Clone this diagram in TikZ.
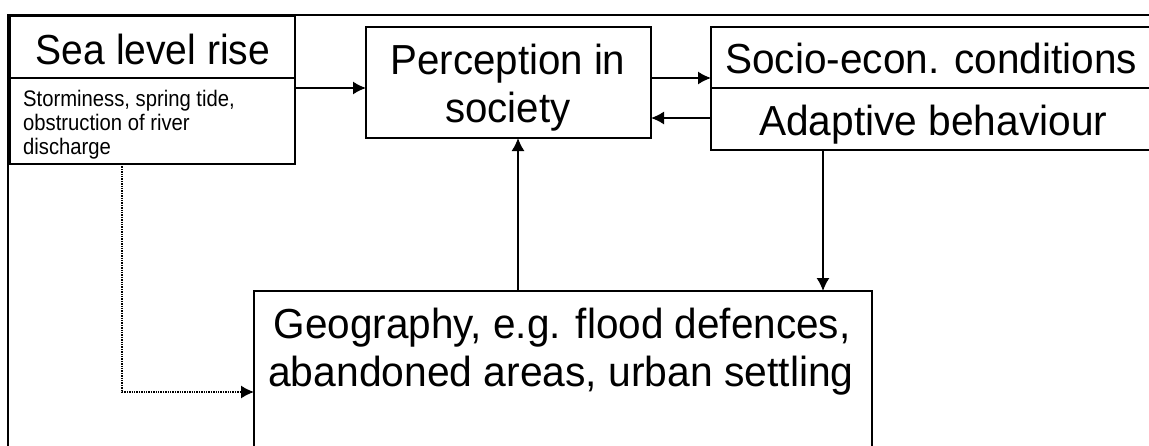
\documentclass[tikz,border=0pt]{standalone}
\usepackage{fontspec}
\usepackage{graphicx}
\setmainfont{Liberation Sans}
\usetikzlibrary{arrows.meta,calc}
\begin{document}
\begin{tikzpicture}[x=1pt,y=-1pt,
  box/.style={draw,line width=1.8pt,inner sep=0pt,outer sep=0pt,anchor=north west},
  frame/.style={draw,line width=1.8pt},
  big/.style={font=\fontsize{42}{48}\selectfont,inner sep=0pt},
  small/.style={font=\fontsize{22.5}{24}\selectfont,inner sep=0pt},
  arr/.style={draw,line width=1.5pt,-{Latex[length=13pt,width=13pt]}},
  dotarr/.style={draw,line width=1.4pt,dash pattern=on 1.4pt off 1pt,-{Latex[length=13pt,width=13pt]}}]
\useasboundingbox (0,0) rectangle (1149,445);
\clip (0,0) rectangle (1149,445);
% outer frame
\draw[frame] (8,470) -- (8,15) -- (1170,15);
% boxes
\node[box,minimum width=285pt,minimum height=62pt] (sea) at (10,16) {};
\node[box,minimum width=285pt,minimum height=86pt] (seasub) at (10,78) {};
\node[box,minimum width=285pt,minimum height=111pt] (perc) at (366,27) {};
\node[box,minimum width=450pt,minimum height=61pt] (socio) at (711,27) {};
\node[box,minimum width=450pt,minimum height=62pt] (adapt) at (711,88) {};
\node[box,minimum width=618pt,minimum height=220pt] (geo) at (254,291) {};
% texts
\node[big,anchor=base] (tsea) at (153,64) {\scalebox{0.93}[1]{Sea level rise}};
\node[small,anchor=base west] (tsub1) at (23,106) {\scalebox{0.9}[1]{Storminess, spring tide,}};
\node[small,anchor=base west] (tsub2) at (23,130) {\scalebox{0.9}[1]{obstruction of river}};
\node[small,anchor=base west] (tsub3) at (23,154) {\scalebox{0.9}[1]{discharge}};
\node[big,anchor=base] (tperc1) at (508,74) {\scalebox{0.958}[1]{Perception in}};
\node[big,anchor=base] (tperc2) at (508,122) {\scalebox{0.958}[1]{society}};
\node[big,anchor=base west] (tsocio) at (725,73) {\scalebox{0.966}[1]{Socio-econ. conditions}};
\node[big,anchor=base west] (tadapt) at (759,135) {\scalebox{0.968}[1]{Adaptive behaviour}};
\node[big,anchor=base] (tgeo1) at (562,338) {\scalebox{0.964}[1]{Geography, e.g. flood defences,}};
\node[big,anchor=base] (tgeo2) at (561,386) {\scalebox{0.972}[1]{abandoned areas, urban settling}};
% connectors
\draw[arr] ($(seasub.north east)+(0,10)$) -- ($(perc.north west)+(0,61)$);
\draw[arr] ($(perc.north east)+(0,51)$) -- ($(socio.north west)+(0,51)$);
\draw[arr] ($(adapt.north west)+(0,30)$) -- ($(perc.north east)+(0,91)$);
\draw[arr] ($(geo.north west)+(264,0)$) -- ($(perc.south west)+(152,0)$);
\draw[arr] ($(adapt.south west)+(112,0)$) -- ($(geo.north west)+(569,0)$);
\draw[dotarr] ($(seasub.south west)+(112,0)$) |- ($(geo.north west)+(0,101)$);
\end{tikzpicture}
\end{document}
